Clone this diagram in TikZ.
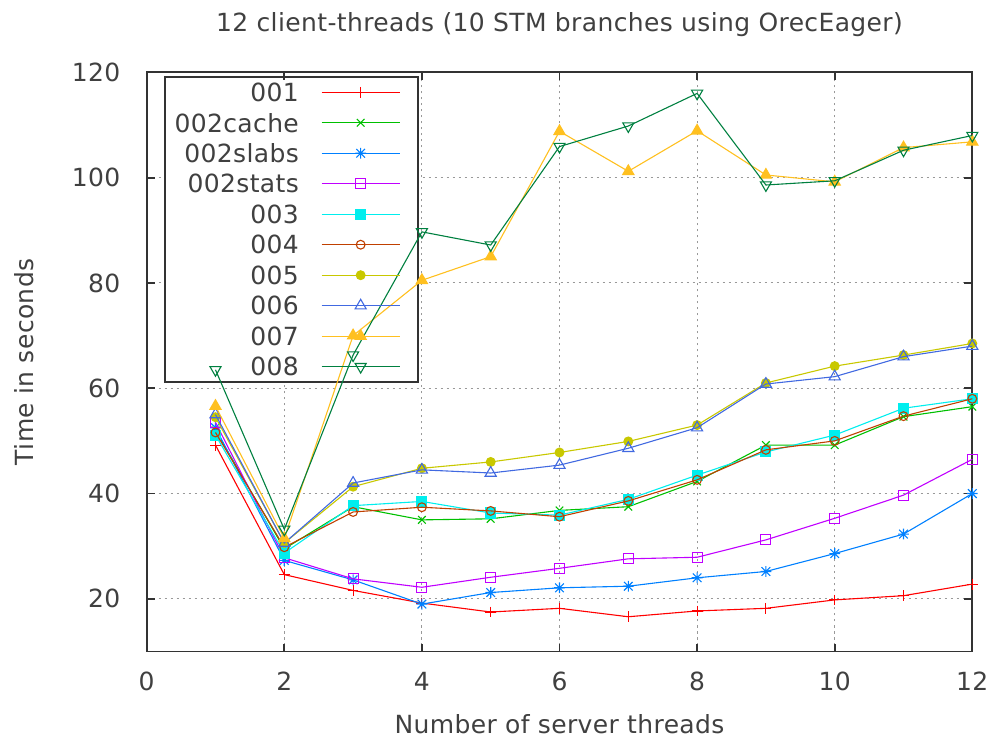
\documentclass[tikz,border=0pt]{standalone}
\usepackage{fontspec}
\setmainfont[LetterSpace=1.5]{DejaVu Sans}
\usepackage{xcolor}
\usepackage{tikz}
\usetikzlibrary{plotmarks}

\definecolor{gpred}{HTML}{FF0000}
\definecolor{gpgreen}{HTML}{00C000}
\definecolor{gpblue}{HTML}{0080FF}
\definecolor{gpmagenta}{HTML}{C000FF}
\definecolor{gpcyan}{HTML}{00EEEE}
\definecolor{gpbrown}{HTML}{C04000}
\definecolor{gpolive}{HTML}{C8C800}
\definecolor{gproyal}{HTML}{4169E1}
\definecolor{gporange}{HTML}{FFC020}
\definecolor{gpdkgreen}{HTML}{008040}

% gnuplot style star: plus and cross on top of each other
\pgfdeclareplotmark{gpstar}{%
  \pgfpathmoveto{\pgfqpoint{-\pgfplotmarksize}{0pt}}%
  \pgfpathlineto{\pgfqpoint{\pgfplotmarksize}{0pt}}%
  \pgfpathmoveto{\pgfqpoint{0pt}{-\pgfplotmarksize}}%
  \pgfpathlineto{\pgfqpoint{0pt}{\pgfplotmarksize}}%
  \pgfpathmoveto{\pgfqpoint{-.8\pgfplotmarksize}{-.8\pgfplotmarksize}}%
  \pgfpathlineto{\pgfqpoint{.8\pgfplotmarksize}{.8\pgfplotmarksize}}%
  \pgfpathmoveto{\pgfqpoint{-.8\pgfplotmarksize}{.8\pgfplotmarksize}}%
  \pgfpathlineto{\pgfqpoint{.8\pgfplotmarksize}{-.8\pgfplotmarksize}}%
  \pgfusepathqstroke}

\begin{document}
\begin{tikzpicture}[x=34.4pt,y=2.6325pt,font=\fontsize{12.5}{15}\selectfont,
 brd/.style={draw=black!80,line width=0.9pt},
 grd/.style={black!40,line width=0.5pt,dash pattern=on 1.3pt off 1.7pt},
 tck/.style={black!80,line width=0.9pt},
 ytl/.style={anchor=east,text=black!75,inner sep=0pt},
 xtl/.style={anchor=center,text=black!75,inner sep=0pt},
 ttl/.style={anchor=base,text=black!75,inner sep=0pt},
 key/.style={anchor=east,text=black!75,inner sep=0pt},
 ser/.style={line width=0.55pt,mark size=2.7pt,mark options={solid}},
 s001/.style={ser,gpred,mark=+},
 s002c/.style={ser,gpgreen,mark=x},
 s002l/.style={ser,gpblue,mark=gpstar},
 s002s/.style={ser,gpmagenta,mark=square,mark size=2.5pt},
 s003/.style={ser,gpcyan,mark=square*,mark size=2.5pt},
 s004/.style={ser,gpbrown,mark=o,mark size=2.2pt},
 s005/.style={ser,gpolive,mark=*,mark size=2.2pt},
 s006/.style={ser,gproyal,mark=triangle,mark size=3.2pt},
 s007/.style={ser,gporange,mark=triangle*,mark size=3.2pt},
 s008/.style={ser,gpdkgreen,mark=triangle,mark size=3.2pt,mark options={solid,rotate=180}}]
\useasboundingbox (-2.132,-7.0) rectangle (12.228,133.74);
% grid
\foreach \x in {2,4,...,10} \draw[grd] (\x,10) -- (\x,120);
\foreach \y in {20,40,...,100} \draw[grd] (0,\y) -- (12,\y);
% key box, covers the grid
\node[brd,fill=white,anchor=south west,inner sep=0pt,minimum width=126.5pt,minimum height=152.5pt] (keybox) at (0.2515,61.0) {};
% ticks and tick labels
\foreach \x in {0,2,...,12} {
  \draw[tck] (\x,10) -- ++(0,4pt);
  \draw[tck] (\x,120) -- ++(0,-4pt);
  \node[xtl] (xl\x) at (\x,4.4) {\x};
}
\foreach \y in {20,40,...,120} {
  \draw[tck] (0,\y) -- ++(4pt,0);
  \draw[tck] (12,\y) -- ++(-4pt,0);
  \node[ytl] (yl\y) at (-0.378,\y) {\y};
}
\draw[brd] (0,10) rectangle (12,120);
% labels
\node[ttl] (title) at (6,127.72) {12 client-threads (10 STM branches using OrecEager)};
\node[ttl] (xaxis) at (6,-5.54) {Number of server threads};
\node[ttl,rotate=90] (yaxis) at (-1.648,65) {Time in seconds};
% data
\draw[s001] plot coordinates {(1,49.2) (2,24.6) (3,21.6) (4,19.2) (5,17.5) (6,18.2) (7,16.6) (8,17.7) (9,18.2) (10,19.8) (11,20.6) (12,22.8)};
\draw[s002c] plot coordinates {(1,52) (2,29.5) (3,37.5) (4,35) (5,35.2) (6,36.8) (7,37.5) (8,42.3) (9,49.2) (10,49.2) (11,54.6) (12,56.5)};
\draw[s002l] plot coordinates {(1,52.5) (2,27.3) (3,23.6) (4,19) (5,21.2) (6,22.1) (7,22.4) (8,24) (9,25.2) (10,28.6) (11,32.3) (12,40)};
\draw[s002s] plot coordinates {(1,53.5) (2,27.8) (3,23.8) (4,22.2) (5,24.1) (6,25.8) (7,27.6) (8,27.9) (9,31.2) (10,35.3) (11,39.7) (12,46.5)};
\draw[s003] plot coordinates {(1,51.1) (2,28.7) (3,37.7) (4,38.5) (5,36.3) (6,35.9) (7,38.9) (8,43.5) (9,47.9) (10,51.1) (11,56.2) (12,58)};
\draw[s004] plot coordinates {(1,51.6) (2,29.8) (3,36.5) (4,37.4) (5,36.7) (6,35.6) (7,38.6) (8,42.6) (9,48.3) (10,50) (11,54.7) (12,58)};
\draw[s005] plot coordinates {(1,54.5) (2,30.6) (3,41.3) (4,44.8) (5,46) (6,47.8) (7,49.9) (8,53) (9,61) (10,64.2) (11,66.3) (12,68.5)};
\draw[s006] plot coordinates {(1,55) (2,30.6) (3,42) (4,44.5) (5,43.9) (6,45.4) (7,48.6) (8,52.5) (9,60.8) (10,62.2) (11,66) (12,68)};
\draw[s007] plot coordinates {(1,56.6) (2,31.5) (3,70) (4,80.5) (5,85) (6,108.8) (7,101.2) (8,108.9) (9,100.5) (10,99.2) (11,105.7) (12,106.8)};
\draw[s008] plot coordinates {(1,63.5) (2,33.2) (3,66.3) (4,89.7) (5,87.2) (6,105.9) (7,109.8) (8,116) (9,98.6) (10,99.4) (11,105.2) (12,108)};
% key entries
\node[key] (k001) at (2.218,116.21) {001};
\draw[s001] (2.543,116.21) -- (3.681,116.21);
\draw[s001] plot[only marks] coordinates {(3.11,116.21)};
\node[key] (k002c) at (2.218,110.42) {002cache};
\draw[s002c] (2.543,110.42) -- (3.681,110.42);
\draw[s002c] plot[only marks] coordinates {(3.11,110.42)};
\node[key] (k002l) at (2.218,104.63) {002slabs};
\draw[s002l] (2.543,104.63) -- (3.681,104.63);
\draw[s002l] plot[only marks] coordinates {(3.11,104.63)};
\node[key] (k002s) at (2.218,98.84) {002stats};
\draw[s002s] (2.543,98.84) -- (3.681,98.84);
\draw[s002s] plot[only marks] coordinates {(3.11,98.84)};
\node[key] (k003) at (2.218,93.05) {003};
\draw[s003] (2.543,93.05) -- (3.681,93.05);
\draw[s003] plot[only marks] coordinates {(3.11,93.05)};
\node[key] (k004) at (2.218,87.26) {004};
\draw[s004] (2.543,87.26) -- (3.681,87.26);
\draw[s004] plot[only marks] coordinates {(3.11,87.26)};
\node[key] (k005) at (2.218,81.47) {005};
\draw[s005] (2.543,81.47) -- (3.681,81.47);
\draw[s005] plot[only marks] coordinates {(3.11,81.47)};
\node[key] (k006) at (2.218,75.68) {006};
\draw[s006] (2.543,75.68) -- (3.681,75.68);
\draw[s006] plot[only marks] coordinates {(3.11,75.68)};
\node[key] (k007) at (2.218,69.89) {007};
\draw[s007] (2.543,69.89) -- (3.681,69.89);
\draw[s007] plot[only marks] coordinates {(3.11,69.89)};
\node[key] (k008) at (2.218,64.10) {008};
\draw[s008] (2.543,64.10) -- (3.681,64.10);
\draw[s008] plot[only marks] coordinates {(3.11,64.10)};
\end{tikzpicture}
\end{document}
